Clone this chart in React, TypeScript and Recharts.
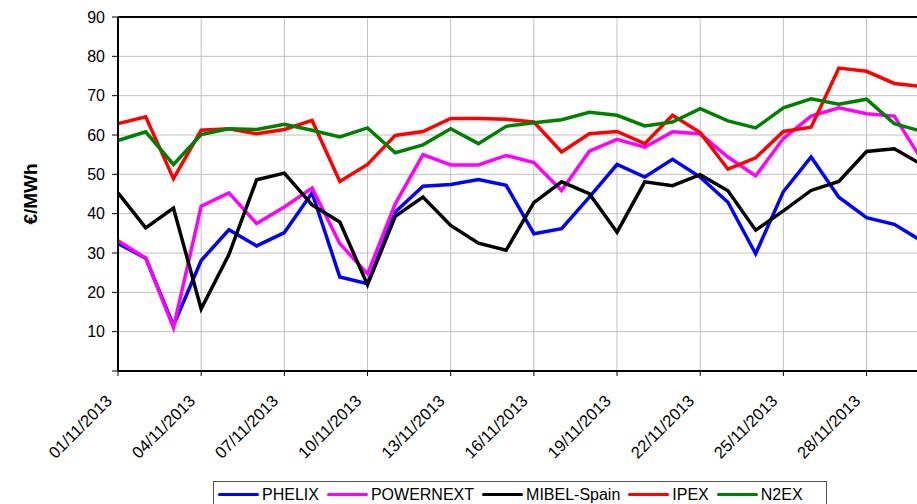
import React from 'react'
import {
  LineChart,
  Line,
  XAxis,
  YAxis,
  CartesianGrid,
  ReferenceLine,
} from 'recharts'

const DATES = [
  '01/11/2013', '02/11/2013', '03/11/2013', '04/11/2013', '05/11/2013',
  '06/11/2013', '07/11/2013', '08/11/2013', '09/11/2013', '10/11/2013',
  '11/11/2013', '12/11/2013', '13/11/2013', '14/11/2013', '15/11/2013',
  '16/11/2013', '17/11/2013', '18/11/2013', '19/11/2013', '20/11/2013',
  '21/11/2013', '22/11/2013', '23/11/2013', '24/11/2013', '25/11/2013',
  '26/11/2013', '27/11/2013', '28/11/2013', '29/11/2013', '30/11/2013',
]

const TICK_DATES = [
  '01/11/2013', '04/11/2013', '07/11/2013', '10/11/2013', '13/11/2013',
  '16/11/2013', '19/11/2013', '22/11/2013', '25/11/2013', '28/11/2013',
]

const Y_TICKS = [0, 10, 20, 30, 40, 50, 60, 70, 80, 90]

const PHELIX = [
  32.4, 28.7, 11.6, 28.1, 35.9, 31.8, 35.2, 45.3, 23.9, 22.2,
  40.4, 47.0, 47.4, 48.7, 47.2, 34.9, 36.2, 44.2, 52.5, 49.3,
  53.8, 49.3, 42.9, 29.8, 45.6, 54.4, 44.2, 39.0, 37.3, 33.0,
]
const POWERNEXT = [
  33.1, 28.7, 11.0, 41.9, 45.3, 37.5, 41.7, 46.5, 32.4, 24.7,
  42.5, 55.0, 52.4, 52.4, 54.8, 53.0, 45.9, 55.9, 58.9, 56.9,
  60.8, 60.3, 54.4, 49.6, 59.1, 64.8, 66.9, 65.4, 64.8, 53.6,
]
const MIBEL_SPAIN = [
  45.3, 36.4, 41.4, 15.8, 29.6, 48.6, 50.3, 42.2, 37.9, 21.9,
  39.3, 44.2, 37.0, 32.5, 30.7, 42.8, 48.1, 45.1, 35.3, 48.1,
  47.1, 49.9, 45.8, 35.8, 40.7, 45.9, 48.2, 55.8, 56.5, 52.5,
]
const IPEX = [
  62.9, 64.6, 48.9, 61.2, 61.6, 60.3, 61.4, 63.7, 48.2, 52.5,
  59.9, 60.9, 64.2, 64.2, 64.0, 63.3, 55.7, 60.3, 60.9, 57.8,
  65.0, 60.6, 51.3, 54.2, 60.9, 62.0, 77.0, 76.2, 73.1, 72.3,
]
const N2EX = [
  58.6, 60.8, 52.5, 60.1, 61.6, 61.4, 62.7, 61.2, 59.5, 61.8,
  55.5, 57.5, 61.6, 57.8, 62.2, 63.1, 63.9, 65.8, 65.0, 62.3,
  63.3, 66.7, 63.6, 61.8, 66.9, 69.2, 67.8, 69.1, 62.9, 60.9,
]

const SERIES = [
  { key: 'phelix', name: 'PHELIX', color: '#0000FF', values: PHELIX },
  { key: 'powernext', name: 'POWERNEXT', color: '#FF00FF', values: POWERNEXT },
  { key: 'mibel', name: 'MIBEL-Spain', color: '#000000', values: MIBEL_SPAIN },
  { key: 'ipex', name: 'IPEX', color: '#FF0000', values: IPEX },
  { key: 'n2ex', name: 'N2EX', color: '#008000', values: N2EX },
]

const FONT = 'Arial, "Liberation Sans", sans-serif'

const data = DATES.map((date, i) => {
  const row: Record<string, string | number> = { date }
  SERIES.forEach((s) => {
    row[s.key] = s.values[i]
  })
  return row
})

// rotated date label, its end sits under the tick
function DateTick({ x, y, payload }: any) {
  return (
    <g transform={`translate(${x - 5},${y + 26}) rotate(-45)`}>
      <text x={0} y={0} textAnchor="end" fill="#000" fontSize={16.5} fontFamily={FONT}>
        {payload.value}
      </text>
    </g>
  )
}

function UnitLabel({ viewBox }: any) {
  const cx = viewBox.x + 30
  const cy = viewBox.y + viewBox.height / 2
  return (
    <text
      transform={`translate(${cx},${cy}) rotate(-90)`}
      textAnchor="middle"
      dominantBaseline="central"
      fontSize={19}
      fontWeight="bold"
      fontFamily={FONT}
      fill="#000"
    >
      €/MWh
    </text>
  )
}

export default function App() {
  return (
    <div
      style={{
        position: 'absolute',
        left: 0,
        top: 0,
        width: 917,
        height: 504,
        overflow: 'hidden',
        background: '#fff',
        fontFamily: FONT,
      }}
    >
      <LineChart
        width={923}
        height={504}
        data={data}
        margin={{ top: 17, right: 1, bottom: 0, left: 0 }}
      >
        <CartesianGrid stroke="#c0c0c0" strokeWidth={1} />
        <XAxis
          dataKey="date"
          type="category"
          ticks={TICK_DATES}
          interval={0}
          height={133}
          tick={<DateTick />}
          tickSize={5}
          tickMargin={0}
          axisLine={{ stroke: '#000', strokeWidth: 2 }}
          tickLine={{ stroke: '#000', strokeWidth: 1 }}
        />
        <YAxis
          width={118}
          domain={[0, 90]}
          ticks={Y_TICKS}
          interval={0}
          tickSize={6}
          tickMargin={7}
          tickFormatter={(v: number) => (v === 0 ? '' : String(v))}
          tick={{ fill: '#000', fontSize: 16, fontFamily: FONT }}
          axisLine={{ stroke: '#000', strokeWidth: 2 }}
          tickLine={{ stroke: '#000', strokeWidth: 1 }}
          label={<UnitLabel />}
        />
        <ReferenceLine y={90} stroke="#000" strokeWidth={2} />
        <ReferenceLine x="30/11/2013" stroke="#000" strokeWidth={2} />
        {SERIES.map((s) => (
          <Line
            key={s.key}
            type="linear"
            dataKey={s.key}
            name={s.name}
            stroke={s.color}
            strokeWidth={3.5}
            dot={false}
            isAnimationActive={false}
          />
        ))}
      </LineChart>
      <div
        style={{
          position: 'absolute',
          left: 213,
          top: 481,
          width: 614,
          height: 30,
          border: '1px solid #555',
          background: '#fff',
          display: 'flex',
          alignItems: 'flex-start',
          paddingLeft: 4,
          paddingTop: 3,
          boxSizing: 'border-box',
          fontSize: 16,
          color: '#000',
        }}
      >
        {SERIES.map((s) => (
          <div key={s.key} style={{ display: 'flex', alignItems: 'center', marginRight: 8 }}>
            <span
              style={{
                display: 'inline-block',
                width: 41,
                height: 3,
                background: s.color,
                borderRadius: 2,
                marginRight: 3,
              }}
            />
            <span style={{ lineHeight: '19px' }}>{s.name}</span>
          </div>
        ))}
      </div>
    </div>
  )
}
